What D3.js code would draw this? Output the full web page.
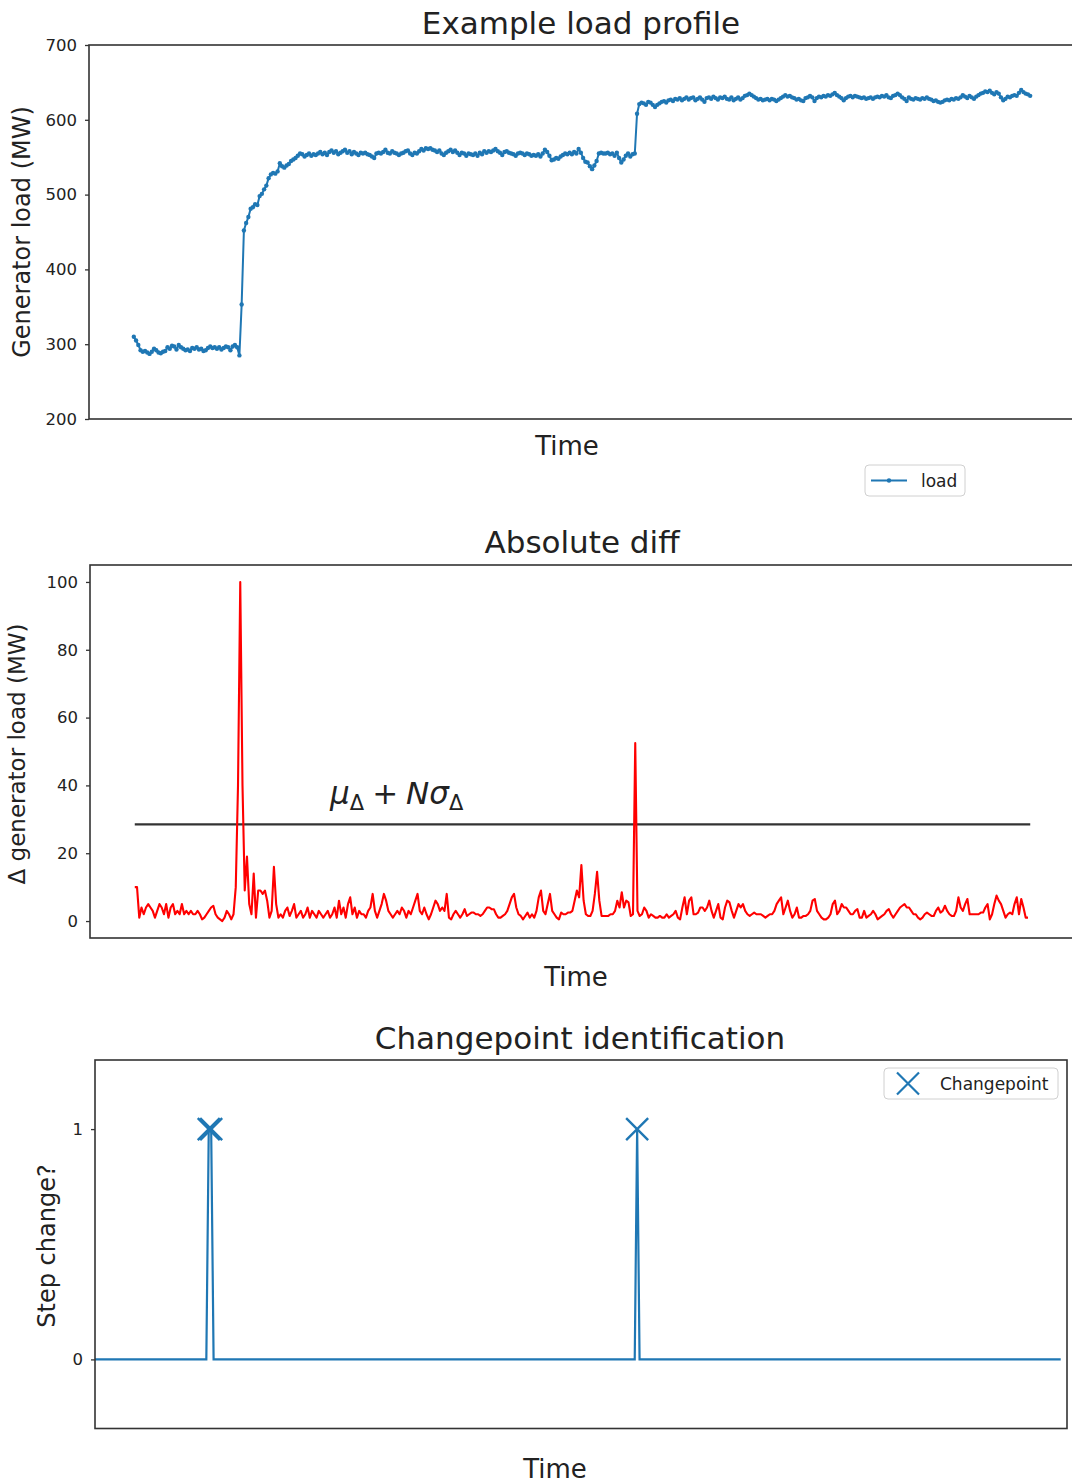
<!DOCTYPE html>
<html>
<head>
<meta charset="utf-8">
<script src="https://cdn.jsdelivr.net/npm/d3@7"></script>
<style>
  body { margin: 0; background: #fff; }
  text { font-family: "DejaVu Sans", sans-serif; fill: #222; }
</style>
</head>
<body>
<svg id="fig" width="1072" height="1483"></svg>
<script>
// Generator load samples (MW), one per time step
const loadMW = [
  310,305,299,292,290,291,289,287,290,294,292,289,288,290,291,296,294,298,297,293,
  299,296,294,292,293,291,295,294,296,293,294,291,292,295,297,295,296,294,296,293,
  295,297,296,292,297,299,296,285,353,452,462,470,481,483,487,486,498,501,507,512,
  522,527,529,528,531,542,538,536,539,541,545,547,549,552,555,554,551,553,555,552,
  554,553,555,557,554,556,553,557,559,556,558,554,556,558,560,556,558,554,557,555,
  553,556,555,556,554,553,551,549,555,556,555,557,560,556,555,558,556,555,553,555,
  556,558,559,555,553,556,555,558,561,559,562,561,562,560,559,557,559,555,553,556,
  558,560,557,559,556,553,556,555,552,555,554,553,555,552,556,554,558,556,558,557,
  559,561,558,556,553,557,558,556,555,554,552,555,556,555,553,555,554,552,553,552,
  554,551,555,560,557,552,546,547,549,548,551,553,555,554,556,554,557,555,561,556,
  549,544,543,538,534,539,545,555,556,555,555,556,554,555,552,556,549,543,547,552,
  555,551,554,555,608,621,623,622,620,624,623,620,617,620,622,624,625,623,626,627,
  625,628,627,629,626,628,630,627,629,630,626,628,630,627,624,629,630,628,631,629,
  627,630,629,631,628,627,630,626,628,630,627,629,632,633,635,633,631,629,627,628,
  626,627,628,626,628,627,625,627,629,631,633,631,632,630,629,627,628,626,625,629,
  630,632,630,625,629,631,630,632,631,633,632,634,636,633,631,629,626,629,631,632,
  630,632,631,630,629,630,628,629,630,628,630,631,630,632,631,633,630,629,632,633,
  635,633,630,628,625,630,628,627,629,628,627,629,628,630,628,627,625,626,624,623,
  624,626,627,626,628,627,629,628,630,633,631,629,632,630,628,631,633,635,636,638,
  637,639,636,634,637,635,630,626,628,631,630,632,633,632,636,640,637,635,634,632
];

// Absolute step-to-step difference in load (MW)
const absDiffMW = [
  10,10,1,4,2,4,5,4,3,1,3,5,4,2,5,1,4,5,2,3,
  2,5,2,3,2,3,2,2,3,2,0.5,1,2,3,4,4.5,2,1,0.5,0,
  1,3,2,0.5,2,10,40,100,40,9,19,5,2,14,1,9,9,8,9,6,
  1,3,16,5,1,2,1,3,4,1.5,3,5,1,2,3,1,2,4,1,3,
  2,1,3,2,1,2,3,1,2,4,1,6,2,4,1,5,7,2,4,1,
  3,2,2,1,3,4,8,3,1,3,5,8,6,3,2,1,2,3,2,4,
  3,1,3,2,4,6,8,3,2,4,2,0.5,2,4,6,5,3,4,3,8,
  1,0.5,2,3,2,1,2,3.5,1.5,2,2.5,2.5,2,2,1.5,2,3,4,4,3.5,
  3.5,2,1,1,1.5,2,3,5,7,8,4,2,1.5,0.5,1.5,2.5,1,2,1,3,
  7,9,3,2,5,8,3,2,1,0.5,2.5,2,2,2.5,2.5,3,6,9,7,16.5,
  6,2,1.5,1.5,3,8,14.5,6,1.5,1.5,1.5,1.5,2,2,3,6,4,8.5,4,6,
  5.5,1.5,2,52.5,3,1.5,2,4,3,1,2,1.5,1,1,1.5,1,1,2,1,1.5,
  2,3,1,0.5,4,7,2,6,7,2,2,2.5,4,4,3,4,6,3,1,3,
  5,1,0.5,4,6,5.5,3,1,3,5,4,5,3,2,1.5,2,2.5,2,2,2,
  1.5,1,1.5,2,2,3,5,6,7,2,4,6,3,1,2,4,1,1,1.5,1.5,
  2,3,6,6.5,3,2,1,0.5,0.5,1,2,5,6,2,3,5,4,4,3,2,
  2,3,3.5,1,1,3,1,1.5,2,3,2,0.5,1,1.5,2,3,3.5,2,1,2,
  3,4,4.5,5,4,4,3,2,2,1,0.5,1,2,2.5,2,1.5,1.5,3,4,2.5,
  3,4.5,3,2,1.5,1.5,3,7,4,3,5,6.5,2,2,2,2,2,2.5,2.5,4,
  5,0.5,2,5,7.5,6,5,3,1,2,2.5,2,5,7,2,6.5,4,1,1
];

// Detection threshold mu + N*sigma (MW)
const thresholdMW = 28.5;

// Time steps flagged as step changes
const changepointIdx = [47, 48, 224];

// Tick values
const loadTicks = [200, 300, 400, 500, 600, 700];
const diffTicks = [0, 20, 40, 60, 80, 100];
const stepTicks = [0, 1];

const C0 = "#1f77b4";
const svg = d3.select("#fig");
const nLoad = loadMW.length;
const stepFlag = d3.range(nLoad).map(i => changepointIdx.includes(i) ? 1 : 0);

function panel(box, xDomain, yDomain, ticks, id) {
  const x = d3.scaleLinear().domain(xDomain).range([box.l, box.r]);
  const y = d3.scaleLinear().domain(yDomain).range([box.b, box.t]);
  svg.append("clipPath").attr("id", id)
    .append("rect").attr("x", box.l).attr("y", box.t)
    .attr("width", box.r - box.l).attr("height", box.b - box.t);
  const ax = svg.append("g")
    .attr("transform", `translate(${box.l},0)`)
    .call(d3.axisLeft(y).tickValues(ticks).tickSize(4).tickPadding(8).tickFormat(d3.format("d")));
  ax.select(".domain").remove();
  ax.selectAll(".tick line").attr("stroke", "#333").attr("stroke-width", 1.3);
  ax.selectAll(".tick text").attr("font-size", 16.5).attr("fill", "#333")
    .style("font-family", '"DejaVu Sans", sans-serif');
  const g = svg.append("g").attr("clip-path", `url(#${id})`);
  const frame = () => svg.append("rect")
    .attr("x", box.l).attr("y", box.t)
    .attr("width", box.r - box.l).attr("height", box.b - box.t)
    .attr("fill", "none").attr("stroke", "#333").attr("stroke-width", 1.6);
  return { x, y, g, frame };
}

function title(text, cx, base) {
  svg.append("text").attr("x", cx).attr("y", base)
    .attr("text-anchor", "middle").attr("font-size", 31).text(text);
}
function xLabel(text, cx, base) {
  svg.append("text").attr("x", cx).attr("y", base)
    .attr("text-anchor", "middle").attr("font-size", 26).text(text);
}
function yLabel(text, bx, cy, size) {
  svg.append("text").attr("transform", `translate(${bx},${cy}) rotate(-90)`)
    .attr("text-anchor", "middle").attr("font-size", size).text(text);
}

// ---- Panel 1: load profile ----
const pad1 = 0.05 * (nLoad - 1);
const p1 = panel({ l: 89, r: 1075, t: 45, b: 419 }, [-pad1, nLoad - 1 + pad1], [200, 700], loadTicks, "clip1");
p1.g.append("path").datum(loadMW)
  .attr("fill", "none").attr("stroke", C0).attr("stroke-width", 2)
  .attr("stroke-linejoin", "round")
  .attr("d", d3.line().x((d, i) => p1.x(i)).y(d => p1.y(d)));
p1.g.selectAll("circle.pt").data(loadMW).join("circle").attr("class", "pt")
  .attr("cx", (d, i) => p1.x(i)).attr("cy", d => p1.y(d)).attr("r", 2.2).attr("fill", C0);
p1.frame();
title("Example load profile", 581, 34);
xLabel("Time", 567, 455);
yLabel("Generator load (MW)", 30, 232, 24);

// legend
const lg1 = svg.append("g");
lg1.append("rect").attr("x", 865).attr("y", 465).attr("width", 100).attr("height", 31)
  .attr("rx", 4).attr("fill", "#fff").attr("stroke", "#d0d0d0");
lg1.append("line").attr("x1", 871).attr("x2", 907).attr("y1", 480.5).attr("y2", 480.5)
  .attr("stroke", C0).attr("stroke-width", 2);
lg1.append("circle").attr("cx", 889).attr("cy", 480.5).attr("r", 2.2).attr("fill", C0);
lg1.append("text").attr("x", 921).attr("y", 486.5).attr("font-size", 17).text("load");

// ---- Panel 2: absolute difference ----
const p2 = panel({ l: 90, r: 1075, t: 565, b: 938 }, [-pad1, nLoad - 1 + pad1], [-5, 105], diffTicks, "clip2");
p2.g.append("line")
  .attr("x1", p2.x(0)).attr("x2", p2.x(nLoad - 1))
  .attr("y1", p2.y(thresholdMW)).attr("y2", p2.y(thresholdMW))
  .attr("stroke", "#333").attr("stroke-width", 2.2);
p2.g.append("path").datum(absDiffMW)
  .attr("fill", "none").attr("stroke", "#ff0000").attr("stroke-width", 2.1)
  .attr("stroke-linejoin", "round")
  .attr("d", d3.line().x((d, i) => p2.x(i)).y(d => p2.y(d)));
p2.frame();

// threshold annotation: mu_Delta + N sigma_Delta
const ann = svg.append("text").attr("x", p2.x(87)).attr("y", p2.y(34.4)).attr("font-size", 31);
ann.append("tspan").attr("font-style", "italic").text("μ");
ann.append("tspan").attr("font-size", 21).attr("dy", 6).text("Δ");
ann.append("tspan").attr("dy", -6).attr("dx", 8).text("+");
ann.append("tspan").attr("dx", 8).attr("font-style", "italic").text("Nσ");
ann.append("tspan").attr("font-size", 21).attr("dy", 6).text("Δ");

title("Absolute diff", 582, 553);
xLabel("Time", 576, 986);
yLabel("Δ generator load (MW)", 25, 754, 23);

// ---- Panel 3: changepoint flags ----
const p3 = panel({ l: 95, r: 1067, t: 1060, b: 1428.5 }, [0, nLoad - 1], [-0.3, 1.3], stepTicks, "clip3");
const x3 = d3.scaleLinear().domain([0, nLoad - 1]).range([95, 1060.7]);
p3.g.append("path").datum(stepFlag)
  .attr("fill", "none").attr("stroke", C0).attr("stroke-width", 2.2)
  .attr("d", d3.line().x((d, i) => x3(i)).y(d => p3.y(d)));
const xMark = "M-11,-11L11,11M-11,11L11,-11";
svg.selectAll("path.cp").data(changepointIdx).join("path").attr("class", "cp")
  .attr("transform", d => `translate(${x3(d)},${p3.y(stepFlag[d])})`)
  .attr("d", xMark).attr("stroke", C0).attr("stroke-width", 2.4).attr("fill", "none");
p3.frame();

const lg3 = svg.append("g");
lg3.append("rect").attr("x", 884).attr("y", 1068).attr("width", 174).attr("height", 31)
  .attr("rx", 4).attr("fill", "#fff").attr("stroke", "#d0d0d0");
lg3.append("path").attr("transform", "translate(908,1083.5)").attr("d", xMark)
  .attr("stroke", C0).attr("stroke-width", 2.2).attr("fill", "none");
lg3.append("text").attr("x", 940).attr("y", 1089.5).attr("font-size", 17).text("Changepoint");

title("Changepoint identification", 580, 1049);
xLabel("Time", 555, 1478);
yLabel("Step change?", 55, 1246, 24);
</script>
</body>
</html>
